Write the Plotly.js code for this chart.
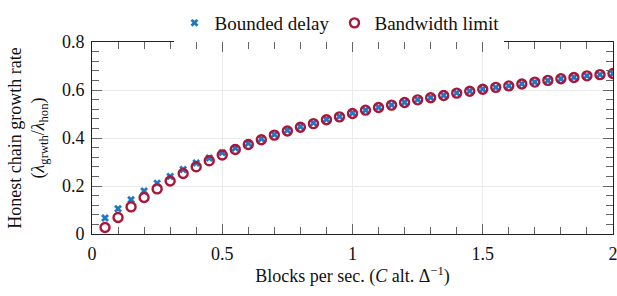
<!DOCTYPE html>
<html>
<head>
<meta charset="utf-8">
<script src="https://cdn.plot.ly/plotly-3.0.1.min.js"></script>
<style>html,body{margin:0;padding:0;background:#fff;}#chart{width:617px;height:296px;}</style>
</head>
<body>
<div id="chart"></div>
<script>
const blocksPerSec = [0.05,0.10,0.15,0.20,0.25,0.30,0.35,0.40,0.45,0.50,
  0.55,0.60,0.65,0.70,0.75,0.80,0.85,0.90,0.95,1.00,
  1.05,1.10,1.15,1.20,1.25,1.30,1.35,1.40,1.45,1.50,
  1.55,1.60,1.65,1.70,1.75,1.80,1.85,1.90,1.95,2.00];
const boundedDelay = [0.067,0.105,0.143,0.179,0.212,0.240,0.269,0.296,0.317,0.339,
  0.358,0.378,0.397,0.415,0.432,0.448,0.463,0.478,0.490,0.504,
  0.517,0.528,0.538,0.549,0.560,0.569,0.578,0.588,0.596,0.604,
  0.611,0.618,0.626,0.633,0.640,0.647,0.653,0.659,0.664,0.669];
const bandwidthLimit = [0.027,0.069,0.113,0.152,0.188,0.221,0.252,0.280,0.305,0.329,
  0.352,0.373,0.393,0.412,0.429,0.445,0.460,0.476,0.488,0.502,
  0.516,0.527,0.537,0.548,0.559,0.568,0.577,0.587,0.595,0.603,
  0.611,0.617,0.625,0.633,0.640,0.647,0.652,0.659,0.664,0.669];
const xTicks = [0, 0.5, 1, 1.5, 2];
const xTickLabels = ["0", "0.5", "1", "1.5", "2"];
const yTicks = [0, 0.2, 0.4, 0.6, 0.8];
const yTickLabels = ["0", "0.2", "0.4", "0.6", "0.8"];

const serif = "Liberation Serif";
const traces = [
  {x: blocksPerSec, y: boundedDelay, type: "scatter", mode: "markers", name: "Bounded delay",
   marker: {symbol: "x", size: 7, color: "#1f78c1", line: {width: 0}}},
  {x: blocksPerSec, y: bandwidthLimit, type: "scatter", mode: "markers", name: "Bandwidth limit",
   marker: {symbol: "circle-open", size: 9, color: "#a8173b", line: {width: 2.4, color: "#a8173b"}}}
];
const axisCommon = {
  showline: true, linecolor: "#222", linewidth: 1, mirror: "allticks",
  ticks: "inside", ticklen: 10, tickcolor: "#666", tickwidth: 1,
  showgrid: true, gridcolor: "#ebebeb", gridwidth: 1, zeroline: false,
  tickfont: {family: serif, size: 18, color: "#111"},
  ticklabelstandoff: 3, ticklabeloverflow: "allow"
};
const layout = {
  width: 617, height: 296,
  margin: {l: 92, r: 4, t: 34, b: 62},
  paper_bgcolor: "#fff", plot_bgcolor: "#fff",
  font: {family: serif, size: 17, color: "#111"},
  showlegend: true,
  legend: {orientation: "h", x: 0.475, xanchor: "center", y: 1.0, yanchor: "bottom",
    font: {family: serif, size: 19, color: "#111"}, itemwidth: 30, tracegroupgap: 0},
  xaxis: Object.assign({}, axisCommon, {
    range: [0, 2], tickvals: xTicks, ticktext: xTickLabels,
    minor: {dtick: 0.1, ticks: "inside", ticklen: 7, tickcolor: "#666", showgrid: false},
    title: {text: "Blocks per sec. (<i>C</i> alt. Δ<sup>−1</sup>)", font: {family: serif, size: 18, color: "#111"}, standoff: 4}
  }),
  yaxis: Object.assign({}, axisCommon, {
    range: [0, 0.8], tickvals: yTicks, ticktext: yTickLabels,
    minor: {dtick: 0.04, ticks: "inside", ticklen: 7, tickcolor: "#666", showgrid: false},
    title: {text: "Honest chain growth rate<br>(<i>λ</i><sub>grwth</sub>/<i>λ</i><sub>hon</sub>)", font: {family: serif, size: 18, color: "#111"}, standoff: 12}
  })
};
Plotly.newPlot("chart", traces, layout, {displayModeBar: false, staticPlot: true});
</script>
</body>
</html>
